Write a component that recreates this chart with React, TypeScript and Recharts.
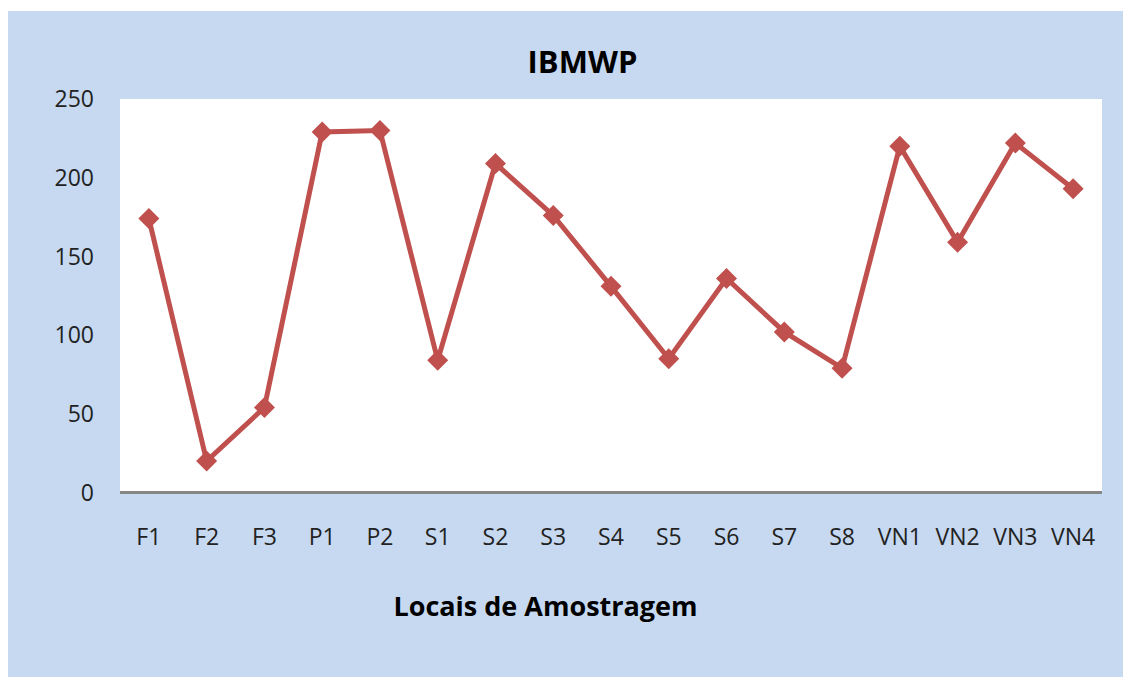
import React from 'react';
import { LineChart, Line, XAxis, YAxis, CartesianGrid } from 'recharts';

const categories = ['F1', 'F2', 'F3', 'P1', 'P2', 'S1', 'S2', 'S3', 'S4', 'S5', 'S6', 'S7', 'S8', 'VN1', 'VN2', 'VN3', 'VN4'];
const ibmwpValues = [174, 20, 54, 229, 230, 84, 209, 176, 131, 85, 136, 102, 79, 220, 159, 222, 193];
const yTicks = [0, 50, 100, 150, 200, 250];
const titleText = 'IBMWP';
const xAxisTitle = 'Locais de Amostragem';

const data = categories.map((c, i) => ({ name: c, value: ibmwpValues[i] }));

const LINE_COLOR = '#C0504D';
const FONT = "'Open Sans', 'DejaVu Sans', sans-serif";

const Diamond = (props: any) => {
  const { cx, cy } = props;
  if (cx == null || cy == null) return null;
  const r = 10.5;
  return (
    <polygon
      points={`${cx},${cy - r} ${cx + r},${cy} ${cx},${cy + r} ${cx - r},${cy}`}
      fill={LINE_COLOR}
      stroke="none"
    />
  );
};

export default function App() {
  return (
    <>
      <style>{`html,body{margin:0;padding:0;overflow:hidden;background:#fff}`}</style>
      <div style={{ position: 'absolute', left: 8, top: 11, width: 1115, height: 666, background: '#C6D9F1' }}>
        <LineChart
          width={1115}
          height={666}
          data={data}
          margin={{ top: 88, right: 21, left: 0, bottom: 124.5 }}
        >
          <CartesianGrid fill="#FFFFFF" horizontal={false} vertical={false} stroke="none" />
          <XAxis
            dataKey="name"
            scale="band"
            height={60}
            axisLine={{ stroke: '#868686', strokeWidth: 3 }}
            tickLine={false}
            tickSize={0}
            tickMargin={36}
            interval={0}
            tick={{ fill: '#222222', fontSize: 23, fontFamily: FONT }}
          />
          <YAxis
            width={112}
            domain={[0, 250]}
            ticks={yTicks}
            axisLine={false}
            tickLine={false}
            tickSize={0}
            tickMargin={26}
            tick={{ fill: '#222222', fontSize: 23, fontFamily: FONT }}
          />
          <Line
            type="linear"
            dataKey="value"
            stroke={LINE_COLOR}
            strokeWidth={5}
            dot={<Diamond />}
            activeDot={false}
            isAnimationActive={false}
          />
        </LineChart>
        <svg
          width={1115}
          height={666}
          style={{ position: 'absolute', left: 0, top: 0, pointerEvents: 'none' }}
        >
          <text x={574.5} y={62.3} textAnchor="middle" fontFamily={FONT} fontWeight="bold" fontSize={31} fill="#000000">
            {titleText}
          </text>
          <text x={545.5 - 8} y={605} textAnchor="middle" fontFamily={FONT} fontWeight="bold" fontSize={27} fill="#000000">
            {xAxisTitle}
          </text>
        </svg>
      </div>
    </>
  );
}
